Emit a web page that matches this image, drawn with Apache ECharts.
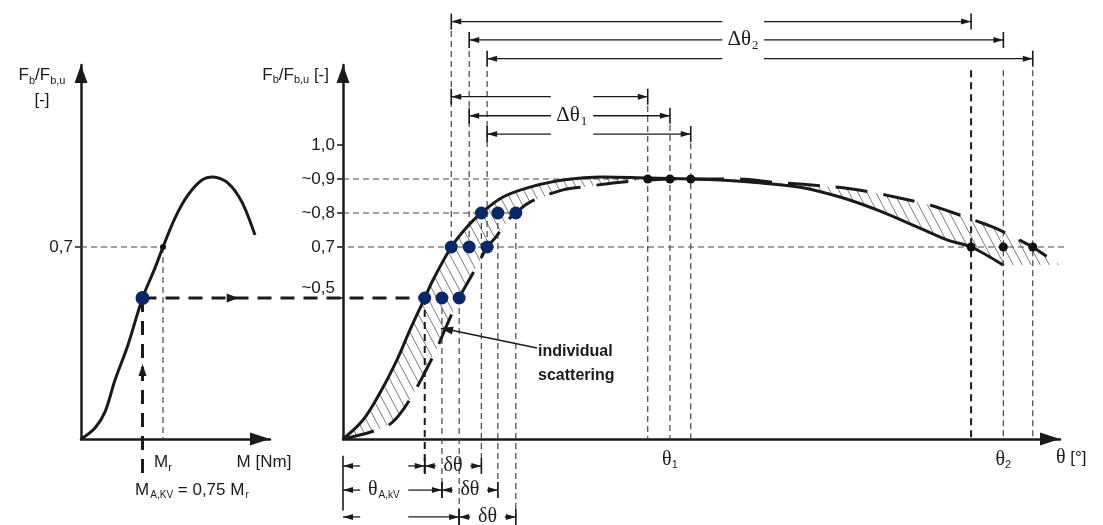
<!DOCTYPE html>
<html><head><meta charset="utf-8">
<script src="https://cdn.jsdelivr.net/npm/echarts@6/dist/echarts.min.js"></script>
<style>html,body{margin:0;padding:0;background:#fff}#c{width:1103px;height:525px}</style>
</head><body><div id="c"></div>
<script>
// ================= DATA =================
// Left panel: clamp-force ratio Fb/Fb,u versus tightening torque M
const leftM = [0, 1.71, 2.93, 4.15, 5.73, 7.5, 9.02, 10, 11.46, 13.05, 14.76, 16.1, 17.93, 19.63, 21.22];
const leftF = [0.135, 0.168, 0.215, 0.309, 0.412, 0.55, 0.638, 0.7, 0.785, 0.853, 0.897, 0.906, 0.888, 0.832, 0.735];
const Mr = 10;        // M_r
const MAkv = 7.5;     // M_A,KV = 0.75 M_r
const FAkv = 0.55;    // ~0,5

// Right panel: upper (solid) and lower (dashed) bound of Fb/Fb,u versus angle θ
const upperTheta = [0, 2.79, 5.16, 7.53, 9.34, 11.4, 12.41, 15.1, 17.29, 19.3, 22.32, 26.08, 30.68, 36.26, 42.4, 48.7, 52.58, 56.76, 63.74, 69.32, 74.48, 80.06, 84.24, 87.6, 92.05];
const upperF = [0.135, 0.191, 0.271, 0.368, 0.456, 0.55, 0.597, 0.7, 0.759, 0.8, 0.847, 0.876, 0.897, 0.906, 0.903, 0.9, 0.897, 0.891, 0.876, 0.847, 0.809, 0.759, 0.721, 0.7, 0.647];
const lowerTheta = [0, 2.37, 4.74, 6.56, 7.95, 9.62, 11.02, 13.11, 14.5, 16.2, 17.43, 18.69, 20.1, 21.2, 23.01, 24.1, 26.08, 30.68, 33.33, 37.66, 42.82, 48.5, 55.37, 59.83, 63.74, 69.74, 74.2, 76.99, 81.45, 83.96, 88.42, 90.93, 94.84, 96.2, 97.91, 100];
const lowerF = [0.135, 0.147, 0.162, 0.179, 0.209, 0.262, 0.315, 0.403, 0.471, 0.55, 0.597, 0.644, 0.7, 0.726, 0.779, 0.8, 0.832, 0.868, 0.876, 0.888, 0.897, 0.9, 0.9, 0.891, 0.885, 0.874, 0.859, 0.847, 0.826, 0.809, 0.776, 0.756, 0.715, 0.7, 0.676, 0.647];

// individual scattering points (θ) at the force levels
const F05 = 0.55, F07 = 0.7, F08 = 0.8, F09 = 0.9;
const thetaAt05 = [11.4, 13.8, 16.2];
const thetaAt07rise = [15.1, 17.6, 20.1];
const thetaAt08 = [19.3, 21.6, 24.1];
const thetaAt09 = [42.5, 45.6, 48.5];       // θ1
const thetaAt07fall = [87.6, 92.1, 96.2];   // θ2

// tick labels
const yTickValues = [0.55, 0.7, 0.8, 0.9, 1.0];
const yTickLabels = ['{u|~0,5}', '0,7', '~0,8', '~0,9', '1,0'];
const leftYTickValues = [0.7];
const leftYTickLabels = ['0,7'];
const xTickValues = [thetaAt09[1], thetaAt07fall[1]];
const xTickLabels = ['θ{s|1}', 'θ{s|2}'];
const leftXTickValues = [Mr];
const leftXTickLabels = ['M{s|r}'];

// ================= LAYOUT (not data) =================
const Y_MIN = 0.1353, Y_MAX = 1.2353;
const laneTop = [1.363, 1.309, 1.254];     // Δθ2 dimension rows
const laneMid = [1.142, 1.086, 1.032];     // Δθ1 dimension rows
const laneBot = [0.056, -0.015, -0.094];   // θA,kV / δθ rows
const gapD2 = [52.9, 58.7], gapD1 = [29.0, 34.9], gapA = [2.4, 9.1];
const linkEndM = 41.95;                    // heavy link reaches first ~0,5 point of the right panel

const SANS = '"Liberation Sans", Arial, sans-serif';
const SERIF = '"Liberation Serif", "Times New Roman", serif';
const INK = '#1a1a1a';
const GUIDE = '#444';

function hatchCanvas() {
  const w = 9, h = 17, c = document.createElement('canvas');
  c.width = w; c.height = h;
  const g = c.getContext('2d');
  g.strokeStyle = '#5a5a5a'; g.lineWidth = 0.8;
  g.beginPath();
  [-w, 0, w].forEach(dx => { g.moveTo(dx, 0); g.lineTo(dx + w, h); });
  g.stroke();
  return c;
}

function segSeries(gi, segs, style, z) {
  return {
    type: 'custom', xAxisIndex: gi, yAxisIndex: gi, silent: true, z: z || 2,
    dimensions: ['x1', 'y1', 'x2', 'y2'], encode: { x: [0, 2], y: [1, 3] },
    data: segs,
    renderItem: (p, api) => {
      const a = api.coord([api.value(0), api.value(1)]);
      const b = api.coord([api.value(2), api.value(3)]);
      return { type: 'line', shape: { x1: a[0], y1: a[1], x2: b[0], y2: b[1] }, style: Object.assign({ fill: null }, style) };
    }
  };
}

function arrowHead(tip, dx, dy, L, W) {
  const nx = -dy, ny = dx;
  return { type: 'polygon', shape: { points: [tip,
    [tip[0] - dx * L + nx * W / 2, tip[1] - dy * L + ny * W / 2],
    [tip[0] - dx * L - nx * W / 2, tip[1] - dy * L - ny * W / 2]] }, style: { fill: INK } };
}

// dimension rows: [start, end, lane, gapStart, gapEnd, drawStartBar]
const dims = [];
for (let i = 0; i < 3; i++) dims.push([thetaAt07rise[i], thetaAt07fall[i], laneTop[i], gapD2[0], gapD2[1], 1]);
for (let i = 0; i < 3; i++) dims.push([thetaAt07rise[i], thetaAt09[i], laneMid[i], gapD1[0], gapD1[1], 1]);
for (let i = 0; i < 3; i++) dims.push([0, thetaAt05[i], laneBot[i], gapA[0], gapA[1], 0]);
for (let i = 0; i < 3; i++) {
  const m = (thetaAt05[i] + thetaAt08[i]) / 2;
  dims.push([thetaAt05[i], thetaAt08[i], laneBot[i], m - 2.4, m + 2.4, 1]);
}
// one common reference bar at θ = 0 for the lower rows
const zeroBar = [[0, laneBot[0] + 0.03, 0, laneBot[1] - 0.06]];

const rightTexts = [
  { v: [55.8, laneTop[1]], t: 'Δθ{s|2}', f: SERIF, fs: 21, a: 'center' },
  { v: [31.9, laneMid[1]], t: 'Δθ{s|1}', f: SERIF, fs: 21, a: 'center' },
  { v: [5.7, laneBot[1]], t: 'θ{t|A,kV}', f: SERIF, fs: 20, a: 'center' },
  { v: [(thetaAt05[0] + thetaAt08[0]) / 2, laneBot[0]], t: 'δθ', f: SERIF, fs: 20, a: 'center' },
  { v: [(thetaAt05[1] + thetaAt08[1]) / 2, laneBot[1]], t: 'δθ', f: SERIF, fs: 20, a: 'center' },
  { v: [(thetaAt05[2] + thetaAt08[2]) / 2, laneBot[2]], t: 'δθ', f: SERIF, fs: 20, a: 'center' },
  { v: [27.2, 0.357], t: 'individual\nscattering', f: SANS, fs: 16, a: 'left', w: 'bold', lh: 24 }
];
const leftTexts = [
  { v: [6.6, -0.015], t: 'M{t|A,KV} = 0,75 M{t|r}', f: SANS, fs: 17, a: 'left' }
];

function textSeries(gi, items) {
  return {
    type: 'custom', xAxisIndex: gi, yAxisIndex: gi, silent: true, z: 6,
    data: items.map(o => o.v),
    renderItem: (p, api) => {
      const o = items[p.dataIndex];
      const pt = api.coord([api.value(0), api.value(1)]);
      return { type: 'text', x: pt[0], y: pt[1], style: {
        text: o.t, fontFamily: o.f, fontSize: o.fs, fontWeight: o.w || 'normal', fill: INK,
        align: o.a, verticalAlign: 'middle', lineHeight: o.lh,
        rich: {
          s: { fontFamily: SERIF, fontSize: 13, padding: [11, 0, 0, 1], fill: INK },
          t: { fontFamily: SANS, fontSize: 10, padding: [11, 0, 0, 1], fill: INK }
        } } };
    }
  };
}

const axisRich = {
  s: { fontFamily: SANS, fontSize: 11, padding: [10, 0, 0, 0], color: INK },
  u: { fontFamily: SANS, fontSize: 17, padding: [0, 0, 20, 0], color: INK },
  n: { fontFamily: SANS, fontSize: 17, padding: [46, 0, 0, 0], color: INK }
};

function yAxisCfg(gi, vals, labs, name, nameCfg) {
  return {
    type: 'value', gridIndex: gi, min: Y_MIN, max: Y_MAX,
    axisLine: { show: true, onZero: false, symbol: ['none', 'triangle'], symbolSize: [13, 18], symbolOffset: [0, -9], lineStyle: { color: INK, width: 2.5 } },
    axisTick: { show: true, customValues: vals, length: 6, lineStyle: { color: INK, width: 1.5 } },
    axisLabel: { show: true, customValues: vals, margin: 8, fontFamily: SANS, fontSize: 17, color: INK, rich: axisRich,
      formatter: v => { let k = 0; vals.forEach((x, j) => { if (Math.abs(x - v) < Math.abs(vals[k] - v)) k = j; }); return labs[k]; } },
    splitLine: { show: false },
    name: name, nameLocation: 'end', nameMoveOverlap: false,
    nameGap: nameCfg.gap,
    nameTextStyle: Object.assign({ fontFamily: SANS, fontSize: 17, color: INK, rich: axisRich }, nameCfg.style)
  };
}

function xAxisCfg(gi, max, vals, labs, name, nameCfg, labelCfg) {
  return {
    type: 'value', gridIndex: gi, min: 0, max: max,
    axisLine: { show: true, onZero: false, symbol: ['none', 'triangle'], symbolSize: [13, 20], symbolOffset: [0, -10], lineStyle: { color: INK, width: 2.5 } },
    axisTick: { show: false },
    axisLabel: Object.assign({ show: true, customValues: vals, margin: 8, fontSize: 17, color: INK,
      formatter: v => { let k = 0; vals.forEach((x, j) => { if (Math.abs(x - v) < Math.abs(vals[k] - v)) k = j; }); return labs[k]; },
      rich: axisRich }, labelCfg),
    splitLine: { show: false },
    name: name, nameLocation: 'end', nameMoveOverlap: false, nameGap: nameCfg.gap,
    nameTextStyle: Object.assign({ fontFamily: SANS, fontSize: 17, color: INK, rich: axisRich }, nameCfg.style)
  };
}

const thinDash = { stroke: GUIDE, lineWidth: 1.2, lineDash: [6, 4] };
const heavyDash = { stroke: INK, lineWidth: 3, lineDash: [14, 9] };
const midDash = { stroke: INK, lineWidth: 2, lineDash: [7, 5] };
const solidBar = { stroke: INK, lineWidth: 1.6 };

// guide lines right panel
const guidesR = [
  [0, F09, thetaAt09[0], F09],
  [0, F08, thetaAt08[2], F08],
  [-0.7, F07, 100.7, F07]
];
const lowEnds = laneBot.map(v => v - 0.02);
guidesR.push([thetaAt05[1], F05, thetaAt05[1], lowEnds[1]]);
guidesR.push([thetaAt05[2], F05, thetaAt05[2], lowEnds[2]]);
for (let i = 0; i < 3; i++) guidesR.push([thetaAt08[i], F08, thetaAt08[i], lowEnds[i]]);
for (let i = 0; i < 3; i++) guidesR.push([thetaAt07rise[i], F07, thetaAt07rise[i], laneTop[i] - 0.027]);
for (let i = 0; i < 3; i++) guidesR.push([thetaAt09[i], laneMid[i] - 0.027, thetaAt09[i], Y_MIN]);
for (let i = 1; i < 3; i++) guidesR.push([thetaAt07fall[i], 1.22, thetaAt07fall[i], Y_MIN]);
const guidesRMid = [
  [thetaAt05[0], F05, thetaAt05[0], lowEnds[0]],
  [thetaAt07fall[0], 1.22, thetaAt07fall[0], Y_MIN]
];
const guidesL = [[0, F07, Mr, F07], [Mr, F07, Mr, Y_MIN]];
const heavyL = [[MAkv, FAkv, linkEndM, FAkv], [MAkv, FAkv, MAkv, 0.02]];

const outline = upperTheta.map((t, i) => [t, upperF[i]])
  .concat(lowerTheta.map((t, i) => [t, lowerF[i]]).reverse());
const hatch = { image: hatchCanvas(), repeat: 'repeat' };

const option = {
  animation: false,
  backgroundColor: '#fff',
  grid: [
    { left: 81, top: 65, width: 189, height: 374, containLabel: false, outerBoundsMode: 'none' },
    { left: 343, top: 65, width: 717, height: 374, containLabel: false, outerBoundsMode: 'none' }
  ],
  xAxis: [
    xAxisCfg(0, 23.05, leftXTickValues, leftXTickLabels, '{n|M [Nm]}',
      { gap: -6, style: { align: 'center', verticalAlign: 'middle' } },
      { fontFamily: SANS, margin: 13 }),
    xAxisCfg(1, 100, xTickValues, xTickLabels, '{t|θ} [°]',
      { gap: -4, style: { align: 'left', verticalAlign: 'middle', padding: [38, 0, 0, 0],
        rich: { t: { fontFamily: SERIF, fontSize: 20, color: INK } } } },
      { fontFamily: SERIF, fontSize: 20, margin: 10 })
  ],
  yAxis: [
    yAxisCfg(0, leftYTickValues, leftYTickLabels, 'F{s|b}/F{s|b,u}\n[-]',
      { gap: -23, style: { align: 'center', verticalAlign: 'middle', padding: [0, 78, 0, 0], lineHeight: 25 } }),
    yAxisCfg(1, yTickValues, yTickLabels, 'F{s|b}/F{s|b,u} [-]',
      { gap: -10, style: { align: 'right', verticalAlign: 'middle', padding: [0, 14, 0, 0] } })
  ],
  series: [
    {
      type: 'custom', xAxisIndex: 1, yAxisIndex: 1, silent: true, z: 1, data: [[0, Y_MIN]],
      renderItem: (p, api) => ({ type: 'polygon', shape: { points: outline.map(q => api.coord(q)) }, style: { fill: hatch, stroke: null } })
    },
    segSeries(1, guidesR, thinDash, 2),
    segSeries(1, guidesRMid, midDash, 2),
    segSeries(1, zeroBar, solidBar, 3),
    segSeries(0, guidesL, thinDash, 2),
    segSeries(0, heavyL, heavyDash, 3),
    {
      type: 'line', xAxisIndex: 1, yAxisIndex: 1, z: 4, symbol: 'none', smooth: 0.35, silent: true,
      data: upperTheta.map((t, i) => [t, upperF[i]]), lineStyle: { color: INK, width: 3 }
    },
    {
      type: 'line', xAxisIndex: 1, yAxisIndex: 1, z: 4, symbol: 'none', smooth: 0.35, silent: true,
      data: lowerTheta.map((t, i) => [t, lowerF[i]]), lineStyle: { color: INK, width: 3, type: [32, 16], cap: 'butt' }
    },
    {
      type: 'line', xAxisIndex: 0, yAxisIndex: 0, z: 4, symbol: 'none', smooth: 0.3, silent: true,
      data: leftM.map((m, i) => [m, leftF[i]]), lineStyle: { color: INK, width: 3 }
    },
    {
      type: 'custom', xAxisIndex: 1, yAxisIndex: 1, silent: true, z: 3,
      dimensions: ['a', 'b', 'y', 'g1', 'g2', 'bar'], encode: { x: [0, 1], y: 2 },
      data: dims,
      renderItem: (p, api) => {
        const y = api.value(2);
        const p1 = api.coord([api.value(0), y]), p2 = api.coord([api.value(1), y]);
        const g1 = api.coord([api.value(3), y]), g2 = api.coord([api.value(4), y]);
        const ls = { stroke: INK, lineWidth: 1.3, fill: null };
        const kids = [
          { type: 'line', shape: { x1: p1[0], y1: p1[1], x2: g1[0], y2: g1[1] }, style: ls },
          { type: 'line', shape: { x1: g2[0], y1: g2[1], x2: p2[0], y2: p2[1] }, style: ls },
          { type: 'line', shape: { x1: p2[0], y1: p2[1] - 8, x2: p2[0], y2: p2[1] + 8 }, style: solidBar },
          arrowHead(p1, -1, 0, 10, 6),
          arrowHead(p2, 1, 0, 10, 6)
        ];
        if (api.value(5)) kids.push({ type: 'line', shape: { x1: p1[0], y1: p1[1] - 8, x2: p1[0], y2: p1[1] + 8 }, style: solidBar });
        return { type: 'group', children: kids };
      }
    },
    {
      type: 'custom', xAxisIndex: 1, yAxisIndex: 1, silent: true, z: 5,
      dimensions: ['x1', 'y1', 'x2', 'y2'], encode: { x: [0, 2], y: [1, 3] },
      data: [[27.06, 0.403, 13.53, 0.462]],
      renderItem: (p, api) => {
        const a = api.coord([api.value(0), api.value(1)]), b = api.coord([api.value(2), api.value(3)]);
        const L = Math.hypot(b[0] - a[0], b[1] - a[1]), dx = (b[0] - a[0]) / L, dy = (b[1] - a[1]) / L;
        return { type: 'group', children: [
          { type: 'line', shape: { x1: a[0], y1: a[1], x2: b[0] - dx * 8, y2: b[1] - dy * 8 }, style: { stroke: INK, lineWidth: 1.4 } },
          arrowHead(b, dx, dy, 13, 8)
        ] };
      }
    },
    textSeries(1, rightTexts),
    textSeries(0, leftTexts),
    {
      type: 'scatter', xAxisIndex: 1, yAxisIndex: 1, z: 7, symbolSize: 13, silent: true,
      itemStyle: { color: '#0b2767', opacity: 1 },
      data: thetaAt05.map(t => [t, F05]).concat(thetaAt07rise.map(t => [t, F07]), thetaAt08.map(t => [t, F08]))
    },
    {
      type: 'scatter', xAxisIndex: 1, yAxisIndex: 1, z: 7, symbolSize: 9, silent: true,
      itemStyle: { color: '#111', opacity: 1 },
      data: thetaAt09.map(t => [t, F09]).concat(thetaAt07fall.map(t => [t, F07]))
    },
    {
      type: 'scatter', xAxisIndex: 0, yAxisIndex: 0, z: 7, silent: true,
      itemStyle: { opacity: 1 },
      data: [
        { value: [MAkv, FAkv], symbolSize: 14, itemStyle: { color: '#0b2767', opacity: 1 } },
        { value: [Mr, F07], symbolSize: 6, itemStyle: { color: '#111', opacity: 1 } },
        { value: [18.5, FAkv], symbol: 'triangle', symbolSize: [9, 12], symbolRotate: -90, itemStyle: { color: INK, opacity: 1 } },
        { value: [MAkv, 0.338], symbol: 'triangle', symbolSize: [8, 12], symbolRotate: 0, itemStyle: { color: INK, opacity: 1 } }
      ]
    }
  ]
};

const chart = echarts.init(document.getElementById('c'));
chart.setOption(option);
</script>
</body></html>
